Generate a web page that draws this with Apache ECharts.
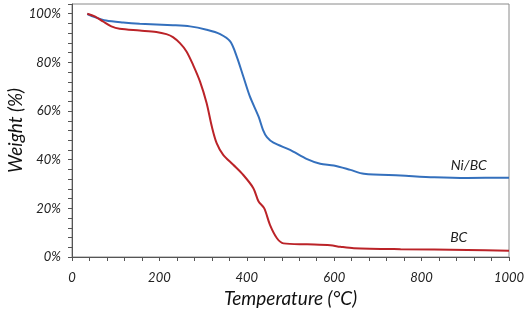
<!DOCTYPE html>
<html>
<head>
<meta charset="utf-8">
<script src="https://cdn.jsdelivr.net/npm/echarts@6/dist/echarts.min.js"></script>
<style>
  html, body { margin: 0; padding: 0; background: #fff; }
  #chart { width: 529px; height: 311px; }
</style>
</head>
<body>
<div id="chart"></div>
<script>
// TGA curves, temperature (°C) vs remaining weight (%)
const niTemp = [35, 52, 78, 117, 155, 231, 270, 308, 339, 362, 377, 392, 407, 427, 437, 446, 461, 499, 538, 568, 599, 637, 668, 752, 829, 905, 1000];
const niWeight = [99.9, 98.6, 97.2, 96.4, 95.9, 95.3, 94.8, 93.4, 91.6, 88.6, 82.4, 74.2, 66, 57.7, 52.3, 49.3, 47, 44, 40.2, 38.3, 37.6, 35.8, 34.2, 33.5, 32.8, 32.5, 32.6];

const bcTemp = [35, 52, 71, 90, 109, 155, 193, 216, 231, 247, 262, 277, 293, 308, 320, 331, 346, 369, 392, 415, 427, 440, 453, 469, 484, 538, 591, 614, 645, 752, 905, 1000];
const bcWeight = [100, 98.9, 96.8, 94.8, 93.8, 93.1, 92.5, 91.6, 90.4, 87.9, 84.5, 79, 72.1, 63.3, 53.6, 46.8, 42, 37.9, 33.7, 28.3, 22.8, 20, 13.2, 7.7, 5.6, 5.2, 4.8, 4.2, 3.6, 3.2, 2.9, 2.6];

const seriesNames = ['Ni/BC', 'BC'];
const labelPos = [[908, 37.5], [885, 8]];

const zip = (xs, ys) => xs.map((x, i) => [x, ys[i]]);

const font = 'Lato, "Open Sans", sans-serif';

const option = {
  backgroundColor: '#fff',
  animation: false,
  grid: {
    left: 72, right: 20, top: 4, bottom: 54,
    outerBoundsMode: 'none',
    containLabel: false,
    show: true, borderColor: '#8a8a8a', borderWidth: 1
  },
  xAxis: {
    type: 'value',
    min: 0, max: 1000, interval: 40,
    name: 'Temperature (°C)',
    nameLocation: 'middle',
    nameGap: 32,
    nameMoveOverlap: false,
    nameTextStyle: { fontFamily: font, fontStyle: 'italic', fontSize: 19, color: '#111' },
    axisLine: { lineStyle: { color: '#555' } },
    axisTick: { inside: false, length: 4, lineStyle: { color: '#555' } },
    axisLabel: {
      fontFamily: font, fontStyle: 'italic', fontSize: 13, color: '#222', margin: 14,
      formatter: v => (v % 200 === 0 ? String(v) : '')
    },
    splitLine: { show: false }
  },
  yAxis: {
    type: 'value',
    min: 0, max: 104, interval: 4,
    name: 'Weight (%)',
    nameLocation: 'middle',
    nameGap: 47,
    nameMoveOverlap: false,
    nameTextStyle: { fontFamily: font, fontStyle: 'italic', fontSize: 19, color: '#111' },
    axisLine: { show: true, lineStyle: { color: '#555' } },
    axisTick: { inside: false, length: 4, lineStyle: { color: '#555' } },
    axisLabel: {
      fontFamily: font, fontStyle: 'italic', fontSize: 13, color: '#222', margin: 11,
      formatter: v => (v % 20 === 0 && v <= 100 ? v + '%' : '')
    },
    splitLine: { show: false }
  },
  series: [
    {
      name: seriesNames[0],
      type: 'line',
      data: zip(niTemp, niWeight),
      smooth: 0.3,
      showSymbol: false,
      lineStyle: { color: '#3470bd', width: 2 },
      markPoint: {
        symbol: 'circle', symbolSize: 0,
        label: { show: true, formatter: '{b}', fontFamily: font, fontStyle: 'italic', fontSize: 14, color: '#222' },
        data: [{ name: seriesNames[0], coord: labelPos[0] }]
      }
    },
    {
      name: seriesNames[1],
      type: 'line',
      data: zip(bcTemp, bcWeight),
      smooth: 0.3,
      showSymbol: false,
      lineStyle: { color: '#bb2328', width: 2 },
      markPoint: {
        symbol: 'circle', symbolSize: 0,
        label: { show: true, formatter: '{b}', fontFamily: font, fontStyle: 'italic', fontSize: 14, color: '#222' },
        data: [{ name: seriesNames[1], coord: labelPos[1] }]
      }
    }
  ]
};

const chart = echarts.init(document.getElementById('chart'));
chart.setOption(option);
</script>
</body>
</html>
